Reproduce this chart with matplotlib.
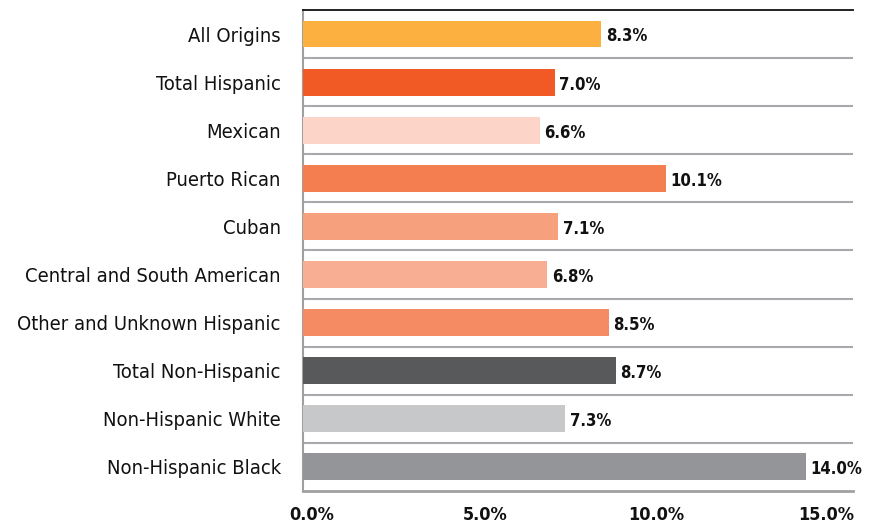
import matplotlib.pyplot as plt
import matplotlib.transforms as mtransforms
import numpy as np

categories = ['All Origins', 'Total Hispanic', 'Mexican', 'Puerto Rican', 'Cuban',
              'Central and South American', 'Other and Unknown Hispanic',
              'Total Non-Hispanic', 'Non-Hispanic White', 'Non-Hispanic Black']
values = [8.3, 7.0, 6.6, 10.1, 7.1, 6.8, 8.5, 8.7, 7.3, 14.0]
colors = ['#FBB040', '#F15A24', '#FCD5C8', '#F47E50', '#F7A07E',
          '#F8AE93', '#F58B62', '#58595B', '#C7C8CA', '#939598']
xticks = [0, 5, 10, 15]
xtick_labels = ['0.0%', '5.0%', '10.0%', '15.0%']

plt.rcParams['font.family'] = ['DejaVu Sans']
plt.rcParams['font.stretch'] = 'condensed'

fig = plt.figure(figsize=(8.69, 5.24), dpi=100)
ax = fig.add_axes([0.3487, 0.063, 0.633, 0.918])

y = np.arange(len(categories))
ax.barh(y, values, height=0.56, color=colors, zorder=3)
for yi, v in zip(y, values):
    ax.text(v + 0.12, yi + 0.05, f'{v:.1f}%', va='center', ha='left', stretch='condensed',
            fontsize=12, fontweight='bold', color='#111111')

for b in np.arange(0.5, len(categories) - 1, 1):
    ax.axhline(b, color='#A7A9AC', lw=1.5, zorder=1)

ax.set_ylim(len(categories) - 0.5, -0.5)
ax.set_xlim(0, 15.3)
ax.set_yticks(y)
ax.set_yticklabels(categories, fontsize=14.5, color='#111111', stretch='condensed')
ax.set_xticks(xticks)
ax.set_xticklabels(xtick_labels, fontsize=13, fontweight='bold', color='#111111', stretch='condensed')
ax.tick_params(axis='y', length=0, pad=16)
ax.tick_params(axis='x', length=0, pad=11)

# nudge x tick labels so they sit like the original (spread across the axis width)
for lab, dx in zip(ax.get_xticklabels(), [9, 2, -6, -16]):
    lab.set_transform(lab.get_transform() + mtransforms.ScaledTranslation(dx / 100, 0, fig.dpi_scale_trans))

ax.spines['right'].set_visible(False)
ax.spines['top'].set_color('#111111')
ax.spines['top'].set_linewidth(1.3)
ax.spines['left'].set_color('#A0A0A0')
ax.spines['left'].set_linewidth(1.5)
ax.spines['bottom'].set_color('#A0A0A0')
ax.spines['bottom'].set_linewidth(2)

fig.savefig('out.png', dpi=100)
